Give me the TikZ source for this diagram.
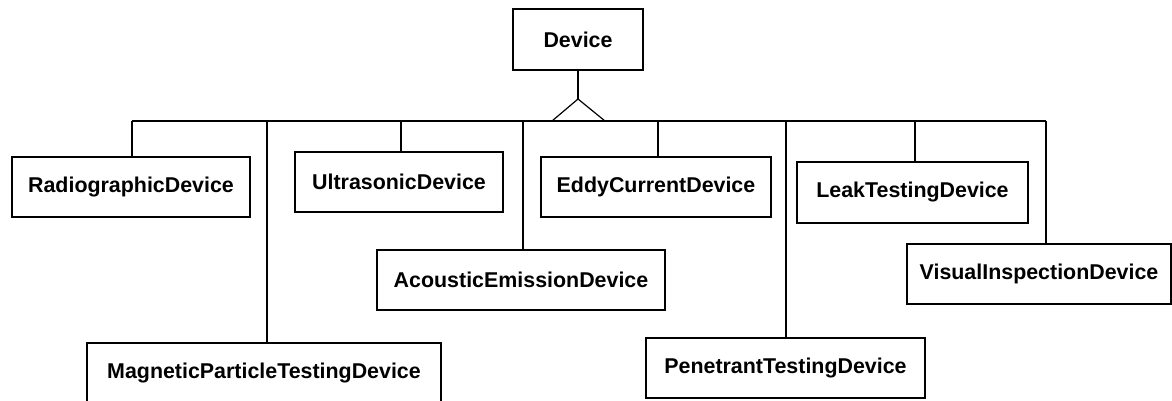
\documentclass[tikz,border=0pt]{standalone}
\usepackage{fontspec}
\setmainfont{Liberation Sans}
\begin{document}
\begin{tikzpicture}[x=1pt,y=-1pt,
  line width=1.2pt,
  cls/.style={draw=black, fill=white, minimum height=60pt, inner sep=0pt,
    font=\fontsize{21.4}{24}\selectfont\bfseries},
  link/.style={draw=black, line width=1.2pt}]
\useasboundingbox (0,0) rectangle (1172,400);

% superclass
\node[cls, minimum width=130pt, minimum height=61pt] (device) at (578,39.5) {Device};

% subclasses
\node[cls, minimum width=238pt] (radio)    at (131,187)   {RadiographicDevice};
\node[cls, minimum width=354pt] (magnetic) at (264,373)   {MagneticParticleTestingDevice};
\node[cls, minimum width=208pt] (ultra)    at (399,182)   {UltrasonicDevice};
\node[cls, minimum width=288pt] (acoustic) at (521,280)   {AcousticEmissionDevice};
\node[cls, minimum width=230pt] (eddy)     at (656,187)   {EddyCurrentDevice};
\node[cls, minimum width=279pt] (penetr)   at (785.5,368) {PenetrantTestingDevice};
\node[cls, minimum width=231pt, minimum height=61pt] (leak) at (912.5,192.5) {LeakTestingDevice};
\node[cls, minimum width=264pt] (visual)   at (1039,274)  {VisualInspectionDevice};

% generalization: stem, hollow triangle and shared bus
\coordinate (apex)  at (578,99);
\coordinate (baseL) at (552,121);
\coordinate (baseR) at (605,121);
\draw[link] (device.south) -- (apex);
\draw[link] (baseL) -- (apex) -- (baseR);

\coordinate (b1) at (132,121);
\coordinate (b2) at (267,121);
\coordinate (b3) at (401,121);
\coordinate (b4) at (523,121);
\coordinate (b5) at (658,121);
\coordinate (b6) at (786,121);
\coordinate (b7) at (915,121);
\coordinate (b8) at (1046,121);
\draw[link] (b1) -- (b8);

\draw[link] (b1) -- (b1 |- radio.north);
\draw[link] (b2) -- (b2 |- magnetic.north);
\draw[link] (b3) -- (b3 |- ultra.north);
\draw[link] (b4) -- (b4 |- acoustic.north);
\draw[link] (b5) -- (b5 |- eddy.north);
\draw[link] (b6) -- (b6 |- penetr.north);
\draw[link] (b7) -- (b7 |- leak.north);
\draw[link] (b8) -- (b8 |- visual.north);
\end{tikzpicture}
\end{document}
